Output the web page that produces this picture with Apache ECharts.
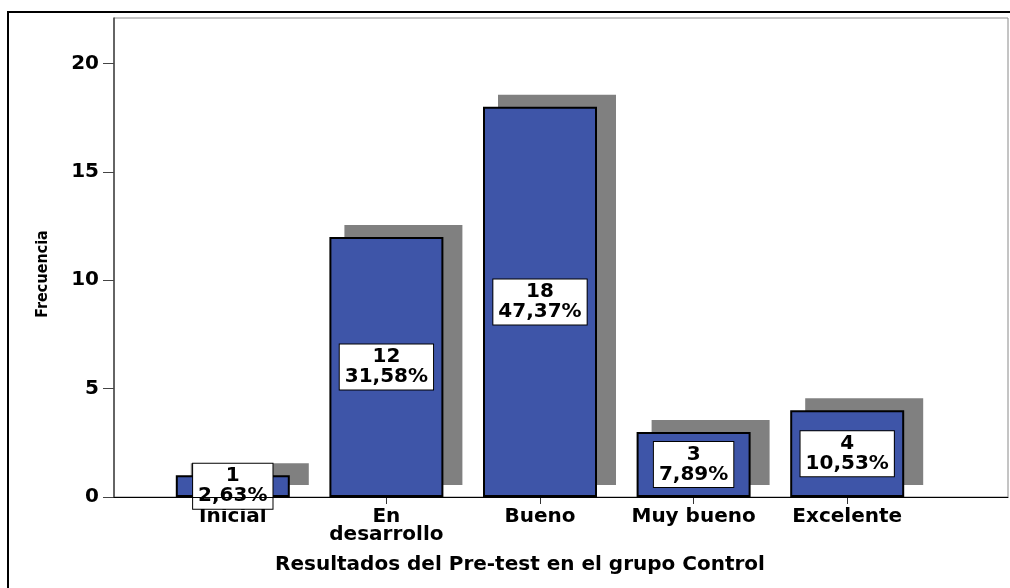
<!DOCTYPE html>
<html>
<head>
<meta charset="utf-8">
<script src="https://cdn.jsdelivr.net/npm/echarts@6/dist/echarts.min.js"></script>
<style>
  html, body { margin: 0; padding: 0; background: #fff; }
  #chart { width: 1010px; height: 588px; }
</style>
</head>
<body>
<div id="chart"></div>
<script>
  // datos del gráfico
  const categories = ['Inicial', 'En\ndesarrollo', 'Bueno', 'Muy bueno', 'Excelente'];
  const counts = [1, 12, 18, 3, 4];
  const percents = ['2,63%', '31,58%', '47,37%', '7,89%', '10,53%'];
  const yTicks = [0, 5, 10, 15, 20];
  const yMax = 22.1;

  const font = 'DejaVu Sans';
  const chart = echarts.init(document.getElementById('chart'));

  chart.setOption({
    animation: false,
    backgroundColor: '#fff',
    grid: [
      // marco del área de trazado
      {left: 114, right: 2, top: 18, bottom: 91, show: true, borderColor: '#8a8a8a', borderWidth: 1, outerBoundsMode: 'none'},
      // barras
      {left: 156, right: 86, top: 18, bottom: 91, outerBoundsMode: 'none'},
      // sombra desplazada
      {left: 173, right: 69, top: 6, bottom: 103, outerBoundsMode: 'none'}
    ],
    xAxis: [
      {
        gridIndex: 0, type: 'value', min: 0, max: 1, z: 10,
        axisLine: {show: true, lineStyle: {color: '#000', width: 1}},
        axisTick: {show: false}, axisLabel: {show: false}, splitLine: {show: false}
      },
      {
        gridIndex: 1, type: 'category', data: categories,
        axisLine: {show: false},
        axisTick: {show: true, alignWithLabel: true, length: 7, lineStyle: {color: '#333', width: 1}},
        axisLabel: {
          interval: 0, margin: 11, color: '#000', fontFamily: font, fontWeight: 'bold', fontSize: 20, lineHeight: 18
        },
        name: 'Resultados del Pre-test en el grupo Control',
        nameLocation: 'middle',
        nameGap: 58,
        nameTextStyle: {color: '#000', fontFamily: font, fontWeight: 'bold', fontSize: 20, padding: [0, 40, 0, 0]}
      },
      {gridIndex: 2, type: 'category', data: categories, show: false}
    ],
    yAxis: [
      {
        gridIndex: 0, type: 'value', min: 0, max: yMax,
        axisLine: {show: true, lineStyle: {color: '#444', width: 1.5}},
        axisTick: {show: true, customValues: yTicks, length: 11, lineStyle: {color: '#444', width: 1}},
        axisLabel: {customValues: yTicks, margin: 15, color: '#000', fontFamily: font, fontWeight: 'bold', fontSize: 20},
        splitLine: {show: false}
      },
      {gridIndex: 1, type: 'value', min: 0, max: yMax, show: false, splitLine: {show: false}},
      {gridIndex: 2, type: 'value', min: 0, max: yMax, show: false, splitLine: {show: false}}
    ],
    series: [
      {
        type: 'bar', name: 'sombra', xAxisIndex: 2, yAxisIndex: 2,
        data: counts, barWidth: 118, silent: true, z: 1,
        itemStyle: {color: '#808080'}
      },
      {
        type: 'bar', name: 'Frecuencia', xAxisIndex: 1, yAxisIndex: 1,
        data: counts, barWidth: 114, z: 3,
        itemStyle: {color: '#3e55a8', borderColor: '#000', borderWidth: 2},
        label: {
          show: true,
          position: 'inside',
          formatter: p => p.value + '\n' + percents[p.dataIndex],
          color: '#000',
          fontFamily: font,
          fontWeight: 'bold',
          fontSize: 20,
          lineHeight: 20,
          backgroundColor: '#fff',
          borderColor: '#000',
          borderWidth: 1,
          padding: [3, 5, 2, 5]
        }
      }
    ],
    graphic: [
      {
        type: 'rect', z: -10,
        shape: {x: 8, y: 12, width: 1100, height: 700},
        style: {fill: 'none', stroke: '#000', lineWidth: 2}
      },
      {
        type: 'text', x: 43, y: 274, rotation: Math.PI / 2,
        style: {
          text: 'Frecuencia', fill: '#000', align: 'center', verticalAlign: 'middle',
          font: 'bold 16px "DejaVu Sans Condensed", "Liberation Sans Narrow", sans-serif'
        }
      }
    ]
  });
</script>
</body>
</html>
